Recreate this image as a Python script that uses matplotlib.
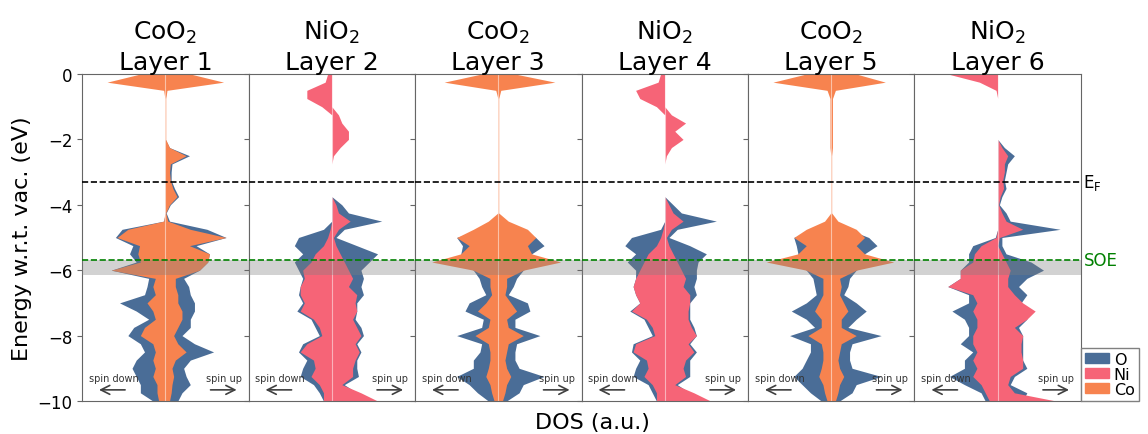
import matplotlib
matplotlib.use('Agg')
import matplotlib.pyplot as plt
from matplotlib.patches import Patch
import numpy as np

# energy grid (eV w.r.t. vacuum)
energy = [0.0, -0.25, -0.5, -0.75, -1.0, -1.25, -1.5, -1.75, -2.0, -2.25,
          -2.5, -2.75, -3.0, -3.25, -3.5, -3.75, -4.0, -4.25, -4.5, -4.75,
          -5.0, -5.25, -5.5, -5.75, -6.0, -6.25, -6.5, -6.75, -7.0, -7.25,
          -7.5, -7.75, -8.0, -8.25, -8.5, -8.75, -9.0, -9.25, -9.5, -9.75,
          -10.0]

titles = ['CoO$_2$\nLayer 1', 'NiO$_2$\nLayer 2', 'CoO$_2$\nLayer 3',
          'NiO$_2$\nLayer 4', 'CoO$_2$\nLayer 5', 'NiO$_2$\nLayer 6']
metals = ['Co', 'Ni', 'Co', 'Ni', 'Co', 'Ni']

# layer 1 (CoO2)
l1_metal_down = [.30, .70, .02, .005, .005, .005, .005, .005, .005, .005,
                 .005, .005, .005, .005, .005, .005, .005, .005, .02, .45,
                 .58, .31, .33, .30, .65, .12, .15, .12, .22, .15,
                 .12, .25, .30, .15, .12, .15, .12, .15, .10, .10,
                 .08]
l1_metal_up = [.30, .70, .02, .005, .005, .005, .005, .005, .005, .05,
               .25, .06, .05, .06, .09, .14, .05, .005, .03, .30,
               .73, .29, .53, .51, .41, .12, .12, .15, .15, .20,
               .20, .15, .10, .15, .25, .12, .08, .10, .08, .07,
               .05]
l1_o_down = [.05, .10, .01, .00, .00, .00, .00, .00, .00, .00,
             .00, .00, .00, .00, .00, .00, .00, .00, .02, .52,
             .60, .39, .43, .35, .65, .20, .22, .25, .55, .35,
             .20, .38, .45, .30, .25, .35, .40, .35, .30, .30,
             .15]
l1_o_up = [.05, .10, .01, .00, .00, .00, .00, .00, .00, .05,
           .29, .08, .07, .07, .11, .16, .06, .01, .05, .50,
           .73, .37, .53, .51, .41, .22, .28, .30, .35, .35,
           .30, .30, .20, .35, .58, .30, .22, .25, .30, .20,
           .15]

# layer 2 (NiO2)
l2_metal_down = [.05, .08, .30, .30, .12, .00, .00, .00, .00, .00,
                 .00, .00, .00, .00, .00, .00, .00, .00, .00, .02,
                 .05, .10, .20, .25, .35, .33, .38, .38, .33, .38,
                 .22, .15, .12, .30, .38, .22, .20, .25, .15, .10,
                 .10]
l2_metal_up = [.00, .00, .00, .00, .00, .08, .12, .20, .20, .10,
               .02, .00, .00, .00, .00, .00, .05, .08, .22, .08,
               .02, .05, .10, .15, .20, .25, .20, .30, .28, .30,
               .25, .30, .35, .28, .33, .28, .25, .25, .12, .35,
               .55]
l2_o_down = [.00, .00, .00, .00, .00, .00, .00, .00, .00, .00,
             .00, .00, .00, .00, .00, .00, .00, .00, .00, .10,
             .40, .45, .35, .45, .40, .35, .38, .40, .35, .42,
             .25, .20, .15, .35, .40, .30, .35, .38, .22, .15,
             .10]
l2_o_up = [.00, .00, .00, .00, .00, .00, .00, .00, .00, .00,
           .00, .00, .00, .00, .00, .00, .12, .20, .60, .15,
           .05, .30, .55, .45, .35, .38, .35, .38, .30, .30,
           .28, .35, .38, .30, .35, .30, .30, .32, .15, .30,
           .30]

# layer 3 (CoO2)
l3_metal_down = [.20, .65, .03, .005, .005, .005, .005, .005, .005, .005,
                 .005, .005, .005, .005, .005, .005, .005, .005, .12, .30,
                 .50, .35, .45, .80, .30, .10, .10, .08, .15, .25,
                 .10, .12, .28, .12, .10, .10, .12, .15, .10, .08,
                 .05]
l3_metal_up = [.20, .68, .03, .005, .005, .005, .005, .005, .005, .005,
               .005, .005, .005, .005, .005, .005, .005, .005, .12, .35,
               .45, .35, .40, .75, .30, .10, .10, .08, .15, .22,
               .10, .12, .30, .12, .10, .08, .10, .15, .10, .08,
               .05]
l3_o_down = [.05, .10, .01, .00, .00, .00, .00, .00, .00, .00,
             .00, .00, .00, .00, .00, .00, .00, .00, .05, .20,
             .50, .43, .45, .45, .30, .23, .20, .15, .35, .40,
             .18, .20, .50, .20, .22, .30, .30, .50, .35, .25,
             .12]
l3_o_up = [.05, .10, .01, .00, .00, .00, .00, .00, .00, .00,
           .00, .00, .00, .00, .00, .00, .00, .00, .05, .20,
           .45, .55, .40, .45, .30, .22, .18, .12, .35, .38,
           .20, .20, .50, .22, .20, .20, .25, .55, .30, .25,
           .10]

# layer 4 (NiO2)
l4_metal_down = [.05, .08, .35, .30, .10, .00, .00, .00, .00, .00,
                 .00, .00, .00, .00, .00, .00, .00, .00, .00, .02,
                 .05, .10, .20, .25, .30, .35, .38, .35, .30, .40,
                 .22, .15, .12, .35, .38, .22, .20, .25, .15, .10,
                 .10]
l4_metal_up = [.00, .00, .00, .00, .00, .08, .25, .12, .22, .08,
               .02, .00, .00, .00, .00, .00, .05, .10, .22, .08,
               .02, .05, .10, .15, .20, .25, .22, .30, .30, .28,
               .28, .32, .38, .28, .35, .25, .22, .25, .12, .35,
               .55]
l4_o_down = [.00, .00, .00, .00, .00, .00, .00, .00, .00, .00,
             .00, .00, .00, .00, .00, .00, .00, .00, .00, .05,
             .40, .48, .35, .45, .35, .35, .38, .35, .30, .42,
             .25, .20, .15, .38, .40, .30, .35, .38, .20, .15,
             .10]
l4_o_up = [.00, .00, .00, .00, .00, .00, .00, .00, .00, .00,
           .00, .00, .00, .00, .00, .00, .10, .20, .62, .15,
           .05, .30, .50, .40, .38, .38, .35, .38, .30, .30,
           .30, .35, .38, .30, .38, .30, .30, .30, .15, .30,
           .30]

# layer 5 (CoO2)
l5_metal_down = [.30, .70, .05, .015, .015, .015, .015, .015, .015, .015,
                 .005, .005, .005, .005, .005, .005, .005, .005, .08, .30,
                 .45, .30, .40, .78, .30, .10, .10, .10, .15, .20,
                 .12, .12, .28, .12, .10, .10, .12, .15, .10, .08,
                 .05]
l5_metal_up = [.30, .65, .05, .015, .015, .015, .015, .015, .015, .015,
               .005, .005, .005, .005, .005, .005, .005, .005, .08, .30,
               .40, .30, .40, .75, .30, .10, .12, .10, .15, .20,
               .12, .12, .30, .12, .10, .08, .10, .15, .10, .08,
               .05]
l5_o_down = [.05, .10, .01, .00, .00, .00, .00, .00, .00, .00,
             .00, .00, .00, .00, .00, .00, .00, .00, .03, .20,
             .45, .42, .40, .45, .30, .22, .20, .18, .30, .48,
             .30, .20, .50, .25, .25, .30, .35, .45, .35, .25,
             .12]
l5_o_up = [.05, .10, .01, .00, .00, .00, .00, .00, .00, .00,
           .00, .00, .00, .00, .00, .00, .00, .00, .03, .20,
           .45, .55, .40, .45, .30, .22, .20, .15, .30, .42,
           .30, .20, .60, .25, .22, .22, .25, .60, .30, .25,
           .10]

# layer 6 (NiO2)
l6_metal_down = [.60, .22, .02, .00, .00, .00, .00, .00, .00, .00,
                 .00, .00, .00, .00, .00, .00, .00, .00, .00, .00,
                 .02, .20, .28, .30, .45, .45, .60, .30, .25, .30,
                 .25, .25, .30, .30, .25, .30, .25, .30, .20, .15,
                 .10]
l6_metal_up = [.00, .00, .00, .00, .00, .00, .00, .00, .00, .05,
               .12, .08, .08, .06, .07, .03, .01, .05, .10, .30,
               .02, .00, .05, .10, .15, .12, .12, .20, .30, .45,
               .35, .20, .30, .28, .28, .30, .30, .15, .12, .20,
               .70]
l6_o_down = [.00, .00, .00, .00, .00, .00, .00, .00, .00, .00,
             .00, .00, .00, .00, .00, .00, .00, .00, .00, .00,
             .03, .30, .35, .35, .45, .45, .60, .35, .35, .55,
             .40, .35, .35, .45, .30, .40, .40, .58, .40, .20,
             .15]
l6_o_up = [.00, .00, .00, .00, .00, .00, .00, .00, .00, .08,
           .20, .12, .10, .08, .10, .05, .02, .10, .15, .75,
           .05, .05, .10, .40, .55, .35, .25, .35, .28, .35,
           .35, .25, .30, .30, .30, .30, .35, .20, .15, .35,
           .30]

metal_down = [l1_metal_down, l2_metal_down, l3_metal_down,
              l4_metal_down, l5_metal_down, l6_metal_down]
metal_up = [l1_metal_up, l2_metal_up, l3_metal_up,
            l4_metal_up, l5_metal_up, l6_metal_up]
o_down = [l1_o_down, l2_o_down, l3_o_down, l4_o_down, l5_o_down, l6_o_down]
o_up = [l1_o_up, l2_o_up, l3_o_up, l4_o_up, l5_o_up, l6_o_up]

e_fermi = -3.29
soe = -5.70
soe_low = -6.15

colors = {'O': '#4a6d97', 'Ni': '#f66477', 'Co': '#f7834f'}

fig, axes = plt.subplots(1, 6, sharey=True, figsize=(11.48, 4.35), dpi=100)
fig.subplots_adjust(left=0.0715, right=0.9416, top=0.8276, bottom=0.0759,
                    wspace=0)

E = np.array(energy)
for i, ax in enumerate(axes):
    od = np.array(o_down[i])
    ou = np.array(o_up[i])
    md = np.array(metal_down[i])
    mu = np.array(metal_up[i])
    ax.fill_betweenx(E, -od, ou, color=colors['O'], lw=0)
    ax.fill_betweenx(E, -md, mu, color=colors[metals[i]], lw=0)
    ax.axvline(0, color='white', lw=0.8, alpha=0.5)
    ax.axhspan(soe_low, soe, color='gray', alpha=0.35, lw=0, zorder=3)
    ax.axhline(e_fermi, color='black', ls='--', lw=1.2, zorder=4)
    ax.axhline(soe, color='green', ls='--', lw=1.2, zorder=4)
    ax.set_xlim(-1, 1)
    ax.set_xticks([])
    ax.set_title(titles[i], fontsize=18, pad=3, linespacing=1.25)

    ax.text(-0.62, -9.3, 'spin down', fontsize=7, ha='center', va='center',
            color='0.2')
    ax.text(0.70, -9.3, 'spin up', fontsize=7, ha='center', va='center',
            color='0.2')
    ax.annotate('', xy=(-0.83, -9.66), xytext=(-0.45, -9.66),
                arrowprops=dict(arrowstyle='->', color='0.25', lw=1.2,
                                mutation_scale=16))
    ax.annotate('', xy=(0.89, -9.66), xytext=(0.51, -9.66),
                arrowprops=dict(arrowstyle='->', color='0.25', lw=1.2,
                                mutation_scale=16))
    for sp in ax.spines.values():
        sp.set_color('0.4')
    ax.tick_params(axis='y', color='0.4', labelsize=12)

axes[0].set_ylim(-10, 0)
axes[0].set_yticks([0, -2, -4, -6, -8, -10])
axes[0].set_ylabel('Energy w.r.t. vac. (eV)', fontsize=16)

last = axes[-1]
last.text(1.015, e_fermi, 'E$_\\mathrm{F}$', transform=last.get_yaxis_transform(),
          fontsize=12, va='center', ha='left')
last.text(1.015, soe, 'SOE', transform=last.get_yaxis_transform(),
          fontsize=12, va='center', ha='left', color='green')

handles = [Patch(color=colors[k], label=k) for k in ['O', 'Ni', 'Co']]
last.legend(handles=handles, loc='lower left', bbox_to_anchor=(1, 0),
            borderaxespad=0, fancybox=False, edgecolor='0.5', fontsize=11.5,
            labelspacing=0.0, handlelength=1.5, handleheight=0.6,
            handletextpad=0.3, borderpad=0.25, framealpha=1)

fig.text(0.516, 0.028, 'DOS (a.u.)', fontsize=16, ha='center', va='center')

fig.savefig('out.png', dpi=100)
